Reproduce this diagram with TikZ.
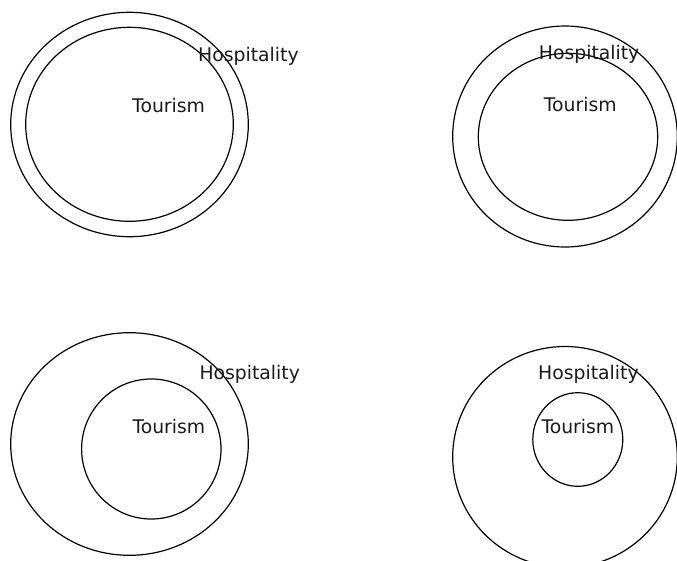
\documentclass[tikz,border=0pt]{standalone}
\usepackage{fontspec}
\setmainfont{DejaVu Sans}
\begin{document}
\begin{tikzpicture}[x=1pt,y=-1pt,
  ring/.style={draw=black,line width=1.2pt},
  lbl/.style={anchor=base west,inner sep=0pt,font=\fontsize{18.8}{20}\selectfont,text=black!90}]
\useasboundingbox (0,0) rectangle (677,560);
% top left
\draw[ring] (129.5,124.5) ellipse [x radius=118.8,y radius=112.2];
\draw[ring] (129.5,124.3) ellipse [x radius=103.8,y radius=97];
\node[lbl] (h1) at (198,61) {Hospitality};
\node[lbl] (t1) at (132,112.7) {Tourism};
% top right
\draw[ring] (565,136.5) ellipse [x radius=112.3,y radius=110.5];
\draw[ring] (568,136.8) ellipse [x radius=89.7,y radius=83.5];
\node[lbl] (h2) at (538.7,59.3) {Hospitality};
\node[lbl] (t2) at (543.7,111.7) {Tourism};
% bottom left
\draw[ring] (129.5,444) ellipse [x radius=118.8,y radius=111.3];
\draw[ring] (151.3,449) ellipse [x radius=69.7,y radius=70];
\node[lbl] (h3) at (199.3,379) {Hospitality};
\node[lbl] (t3) at (132.3,433.3) {Tourism};
% bottom right
\draw[ring] (565,457) ellipse [x radius=112.3,y radius=110.5];
\draw[ring] (577.8,439.5) ellipse [x radius=45,y radius=46.8];
\node[lbl] (h4) at (538,379.3) {Hospitality};
\node[lbl] (t4) at (541.3,433.3) {Tourism};
\end{tikzpicture}
\end{document}
